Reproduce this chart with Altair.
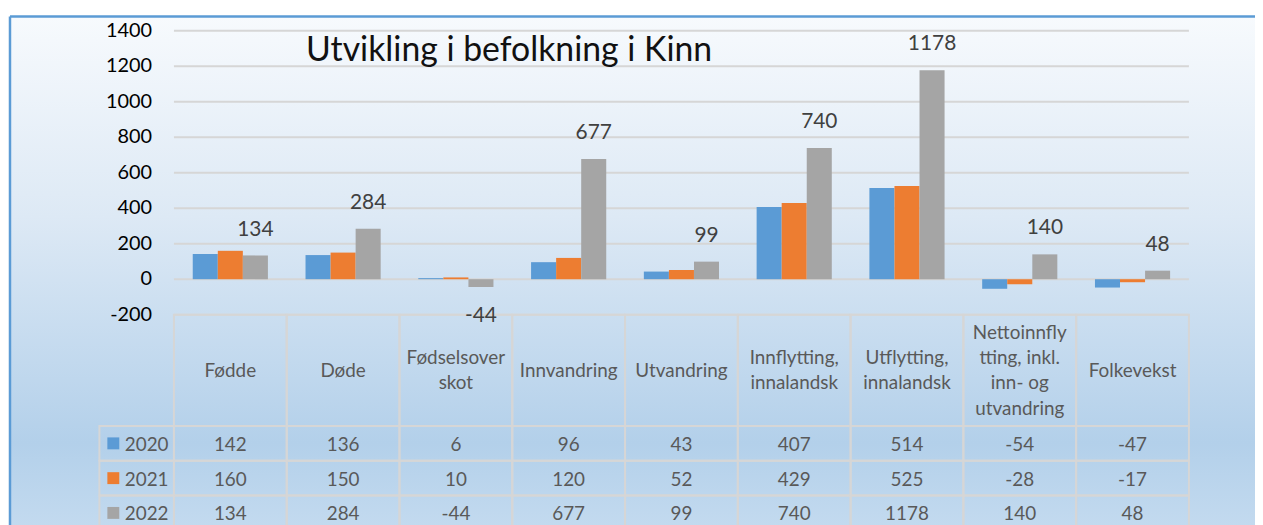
import altair as alt
import pandas as pd

# ---------------- data ----------------
TITLE = "Utvikling i befolkning i Kinn"
categories = ["Fødde", "Døde", "Fødselsoverskot", "Innvandring", "Utvandring",
              "Innflytting, innalandsk", "Utflytting, innalandsk",
              "Nettoinnflytting, inkl. inn- og utvandring", "Folkevekst"]
header_labels = ["Fødde", "Døde", "Fødselsover\nskot", "Innvandring", "Utvandring",
                 "Innflytting,\ninnalandsk", "Utflytting,\ninnalandsk",
                 "Nettoinnfly\ntting, inkl.\ninn- og\nutvandring", "Folkevekst"]
years = ["2020", "2021", "2022"]
v2020 = [142, 136, 6, 96, 43, 407, 514, -54, -47]
v2021 = [160, 150, 10, 120, 52, 429, 525, -28, -17]
v2022 = [134, 284, -44, 677, 99, 740, 1178, 140, 48]
y_ticks = [-200, 0, 200, 400, 600, 800, 1000, 1200, 1400]
colors = ["#5b9bd5", "#ed7d31", "#a5a5a5"]

rows = []
for yr, vals in zip(years, [v2020, v2021, v2022]):
    for c, v in zip(categories, vals):
        rows.append({"category": c, "year": yr, "value": v, "txt": str(v)})
df = pd.DataFrame(rows)
hdr = pd.DataFrame({"category": categories, "label": header_labels,
                    "nlines": [len(s.split("\n")) for s in header_labels]})
ticks = pd.DataFrame({"tick": y_ticks, "txt": [str(t) for t in y_ticks]})
yrs = pd.DataFrame({"year": years})
one = pd.DataFrame({"title": [TITLE]})

# ---------------- layout ----------------
W, H = 1253, 510
FONT = "Lato"
GRID = "#d6d6d6"
TXT = "#595959"
LH = 25.5

x_enc = alt.X("category:N", sort=categories, axis=None,
              scale=alt.Scale(domain=categories, range=[165, 1186.5],
                              paddingInner=0, paddingOuter=0))
xoff = alt.XOffset("year:N", scale=alt.Scale(domain=years, paddingInner=0, paddingOuter=0.75))
bar_scale = alt.Scale(domain=[-200, 1400], range=[300, 14.3], nice=False, zero=False)
row_scale = alt.Scale(domain=years, range=[412, 517], paddingInner=0, paddingOuter=0)
color_enc = alt.Color("year:N", scale=alt.Scale(domain=years, range=colors), legend=None)

gradient = alt.LinearGradient(
    gradient="linear", x1=0, x2=0, y1=0, y2=1,
    stops=[alt.GradientStop(color="#f7fafd", offset=0),
           alt.GradientStop(color="#dde9f5", offset=0.38),
           alt.GradientStop(color="#b3d0ea", offset=0.81),
           alt.GradientStop(color="#c6dcf0", offset=1)])

bg = alt.Chart(one).mark_rect(fill=gradient, strokeWidth=0).encode(
    x=alt.value(0), x2=alt.value(W + 20), y=alt.value(0), y2=alt.value(H + 20))
frame_top = alt.Chart(one).mark_rule(color="#5b9bd5", strokeWidth=2.5).encode(
    x=alt.value(0), x2=alt.value(W + 20), y=alt.value(0))
frame_left = alt.Chart(one).mark_rule(color="#5b9bd5", strokeWidth=2.5).encode(
    x=alt.value(0), y=alt.value(0), y2=alt.value(H + 20))

grid = alt.Chart(ticks).mark_rule(color=GRID, strokeWidth=2).encode(
    y=alt.Y("tick:Q", scale=bar_scale, axis=None),
    x=alt.value(165), x2=alt.value(1186.5))
tick_labels = alt.Chart(ticks).mark_text(font=FONT, fontSize=20, color="#000000",
                                         align="right", baseline="middle").encode(
    y=alt.Y("tick:Q", scale=bar_scale, axis=None),
    x=alt.value(143), text="txt:N")

bars = alt.Chart(df).mark_bar(size=25.2).encode(
    x=x_enc, xOffset=xoff,
    y=alt.Y("value:Q", scale=bar_scale, axis=None),
    color=color_enc)

lab_base = alt.Chart(df).transform_filter(alt.datum.year == "2022")
lab_pos = lab_base.transform_filter(alt.datum.value >= 0).mark_text(
    font=FONT, fontSize=21, color="#404040", baseline="bottom", dy=-16).encode(
    x=x_enc, xOffset=xoff, y=alt.Y("value:Q", scale=bar_scale, axis=None),
    text="txt:N")
lab_neg = lab_base.transform_filter(alt.datum.value < 0).mark_text(
    font=FONT, fontSize=21, color="#404040", baseline="top", dy=18).encode(
    x=x_enc, xOffset=xoff, y=alt.Y("value:Q", scale=bar_scale, axis=None),
    text="txt:N")

title = alt.Chart(one).mark_text(font=FONT, fontSize=34, color="#111111",
                                 align="left", baseline="alphabetic").encode(
    x=alt.value(298), y=alt.value(45), text="title:N")

# ---------------- table ----------------
hdr_cells = alt.Chart(hdr).mark_rect(fill="transparent", stroke=GRID, strokeWidth=2).encode(
    x=x_enc, y=alt.value(300), y2=alt.value(412))
hdr_layers = []
for n in sorted(set(hdr["nlines"])):
    hdr_layers.append(
        alt.Chart(hdr).transform_filter(alt.datum.nlines == n).mark_text(
            font=FONT, fontSize=19, color=TXT, lineBreak="\n", lineHeight=LH,
            baseline="middle", dy=-(n - 1) * LH / 2).encode(
            x=x_enc, y=alt.value(356.5), text="label:N"))
cells = alt.Chart(df).mark_rect(fill="transparent", stroke=GRID, strokeWidth=2).encode(
    x=x_enc, y=alt.Y("year:N", scale=row_scale, axis=None))
cell_text = alt.Chart(df).mark_text(font=FONT, fontSize=19, color=TXT, dy=1.5).encode(
    x=x_enc, y=alt.Y("year:N", scale=row_scale, axis=None), text="txt:N")
row_cells = alt.Chart(yrs).mark_rect(fill="transparent", stroke=GRID, strokeWidth=2).encode(
    x=alt.value(90), x2=alt.value(165), y=alt.Y("year:N", scale=row_scale, axis=None))
row_keys = alt.Chart(yrs).mark_square(size=144, opacity=1).encode(
    x=alt.value(104), y=alt.Y("year:N", scale=row_scale, axis=None), color=color_enc)
row_text = alt.Chart(yrs).mark_text(font=FONT, fontSize=19, color=TXT, align="left", dy=1.5).encode(
    x=alt.value(115.5), y=alt.Y("year:N", scale=row_scale, axis=None), text="year:N")

chart = alt.layer(
    bg, grid, tick_labels, hdr_cells, cells, row_cells, bars, lab_pos, lab_neg, title,
    *hdr_layers, cell_text, row_keys, row_text, frame_top, frame_left
).resolve_scale(y="independent").properties(
    width=W, height=H,
    autosize=alt.AutoSizeParams(type="none"),
    padding={"left": 2, "top": 7, "right": 0, "bottom": 0},
    background="white",
).configure_view(stroke=None)

chart.save("out.html", embed_options={"renderer": "svg", "actions": False})
